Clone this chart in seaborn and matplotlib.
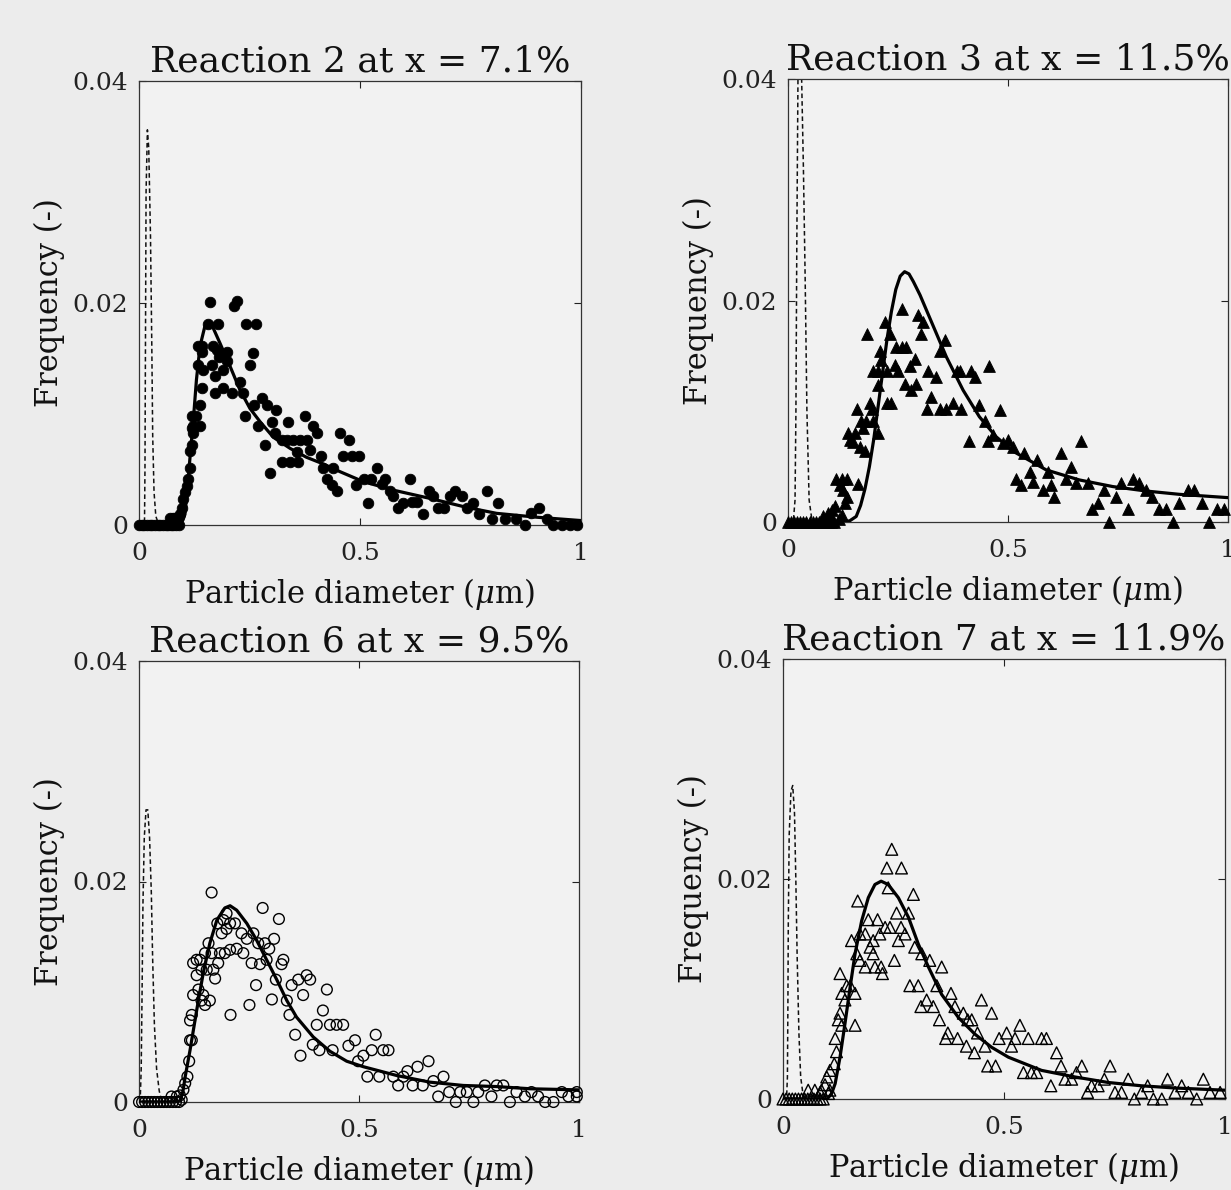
import numpy as np
import pandas as pd
import matplotlib
matplotlib.use("Agg")
import matplotlib.pyplot as plt
import seaborn as sns

# All frequencies below are in units of 1e-3 (converted when plotted)

# ---- Reaction 2 at x = 7.1 % (filled circles) ----
r2_points = [
    (0.000, 0), (0.006, 0), (0.012, 0), (0.018, 0), (0.024, 0), (0.030, 0), (0.036, 0), (0.042, 0),
    (0.048, 0), (0.054, 0), (0.060, 0), (0.066, 0), (0.072, 0), (0.078, 0), (0.084, 0), (0.090, 0),
    (0.070, 0.6), (0.076, 0.6), (0.082, 0.6), (0.088, 0.6),
    (0.093, 1.0), (0.097, 1.5), (0.100, 2.3), (0.104, 3.0), (0.108, 3.5), (0.111, 4.1), (0.115, 5.1),
    (0.115, 6.7), (0.119, 7.2), (0.123, 8.3), (0.119, 8.7), (0.122, 8.9), (0.138, 8.9), (0.130, 9.8),
    (0.119, 9.8), (0.138, 10.8), (0.142, 12.3), (0.134, 14.4), (0.145, 14.0), (0.142, 15.6), (0.134, 16.1),
    (0.142, 16.1), (0.155, 18.1), (0.161, 20.1), (0.179, 18.1), (0.168, 16.1), (0.177, 15.8), (0.198, 15.6),
    (0.182, 15.1), (0.165, 14.4), (0.172, 13.4), (0.191, 14.0), (0.171, 11.9), (0.189, 12.3), (0.210, 11.9),
    (0.228, 12.9), (0.236, 11.9), (0.242, 18.1), (0.265, 18.1), (0.221, 20.2), (0.215, 19.7), (0.257, 15.5),
    (0.250, 14.4), (0.198, 14.8),
    (0.240, 9.8), (0.260, 10.8), (0.278, 11.4), (0.289, 10.8), (0.311, 10.4), (0.270, 8.9), (0.302, 9.3),
    (0.338, 9.3), (0.375, 9.8), (0.393, 8.9), (0.402, 8.3), (0.308, 8.3), (0.323, 7.7), (0.334, 7.7),
    (0.349, 7.7), (0.364, 7.7), (0.379, 7.7), (0.285, 7.2), (0.323, 5.7), (0.342, 5.7), (0.360, 5.7),
    (0.357, 6.6), (0.387, 6.8), (0.411, 6.2), (0.296, 4.7), (0.417, 5.1), (0.440, 5.1), (0.425, 4.1),
    (0.436, 3.6), (0.449, 3.1),
    (0.455, 8.3), (0.474, 7.7), (0.462, 6.2), (0.481, 6.2), (0.498, 6.2), (0.492, 3.6), (0.509, 4.1),
    (0.526, 4.1), (0.538, 5.1), (0.549, 3.7), (0.557, 4.1), (0.568, 3.1), (0.575, 2.6), (0.587, 1.5),
    (0.598, 2.0), (0.612, 4.1), (0.617, 2.1), (0.628, 2.1), (0.643, 1.0), (0.655, 3.1), (0.666, 2.6),
    (0.677, 1.5), (0.689, 1.5), (0.704, 2.6), (0.715, 3.1), (0.730, 2.6), (0.741, 1.5), (0.755, 2.0),
    (0.770, 1.0), (0.787, 3.1), (0.798, 0.5), (0.813, 2.0), (0.828, 0.5), (0.854, 0.5), (0.873, 0),
    (0.888, 1.1), (0.905, 1.5), (0.922, 0.5), (0.937, 0), (0.956, 0), (0.975, 0), (0.990, 0), (0.519, 2.0),
]
r2_fit = [
    (0.0, 0), (0.093, 0), (0.100, 0.5), (0.104, 1.0), (0.110, 3.5), (0.115, 5.9), (0.123, 9.5),
    (0.130, 13.1), (0.138, 16.1), (0.149, 17.9), (0.157, 18.3), (0.165, 18.0), (0.183, 16.4),
    (0.206, 14.3), (0.228, 12.2), (0.251, 10.5), (0.274, 9.3), (0.304, 7.9), (0.342, 6.9), (0.379, 6.1),
    (0.417, 5.5), (0.455, 4.8), (0.508, 3.9), (0.580, 3.1), (0.658, 2.4), (0.740, 1.6), (0.809, 1.05),
    (0.900, 0.7), (1.0, 0.4),
]
r2_seed = [
    (0.0, 0), (0.010, 0), (0.0125, 0.5), (0.0135, 5), (0.0145, 15), (0.016, 30), (0.019, 35.6),
    (0.022, 34), (0.026, 26), (0.029, 16), (0.031, 8), (0.034, 3), (0.038, 0.8), (0.045, 0),
]

# ---- Reaction 3 at x = 11.5 % (filled triangles) ----
r3_points = [
    (0.000, 0), (0.007, 0), (0.014, 0), (0.021, 0), (0.028, 0), (0.035, 0), (0.042, 0), (0.049, 0),
    (0.056, 0), (0.063, 0), (0.070, 0), (0.077, 0), (0.084, 0), (0.091, 0), (0.098, 0), (0.105, 0),
    (0.110, 3.9), (0.122, 3.9), (0.133, 3.9), (0.118, 3.3), (0.125, 2.9), (0.133, 2.3), (0.129, 1.7),
    (0.159, 3.4), (0.107, 1.4), (0.099, 1.1), (0.091, 0.8), (0.080, 0.5), (0.095, 0.5), (0.115, 0.3),
    (0.122, 0.6),
    (0.137, 8.0), (0.152, 8.0), (0.141, 7.4), (0.148, 7.2), (0.163, 6.8), (0.175, 6.4), (0.205, 8.0),
    (0.167, 9.1), (0.178, 9.1), (0.194, 9.1), (0.171, 8.5), (0.156, 10.2), (0.186, 10.7), (0.190, 10.2),
    (0.224, 10.7), (0.235, 10.7),
    (0.258, 19.2), (0.220, 18.1), (0.180, 17.0), (0.231, 17.0), (0.296, 18.7), (0.307, 18.1), (0.303, 17.0),
    (0.356, 16.4), (0.246, 15.8), (0.258, 15.8), (0.269, 15.8), (0.209, 15.4), (0.212, 14.6), (0.194, 13.6),
    (0.205, 13.6), (0.224, 13.6), (0.243, 14.2), (0.250, 13.6), (0.277, 14.1), (0.288, 14.7), (0.318, 13.6),
    (0.337, 13.1), (0.345, 15.4), (0.383, 13.6), (0.390, 13.6), (0.416, 13.6), (0.424, 13.1), (0.457, 14.1),
    (0.205, 12.4), (0.265, 12.5), (0.292, 12.5), (0.280, 11.9), (0.326, 11.3), (0.315, 10.2), (0.345, 10.2),
    (0.360, 10.2), (0.375, 10.7), (0.394, 10.2),
    (0.411, 7.3), (0.435, 10.6), (0.447, 9.1), (0.454, 7.3), (0.466, 7.9), (0.481, 10.1), (0.488, 7.1),
    (0.500, 7.4), (0.511, 6.8), (0.537, 6.2), (0.567, 5.6), (0.590, 4.5), (0.518, 3.9), (0.530, 3.3),
    (0.549, 4.5), (0.556, 3.6), (0.579, 2.9), (0.598, 3.3), (0.605, 2.3), (0.632, 3.9), (0.643, 5.0),
    (0.655, 3.5), (0.681, 3.5), (0.621, 6.2), (0.666, 7.3),
    (0.692, 1.2), (0.704, 1.7), (0.719, 2.9), (0.730, 0), (0.745, 2.3), (0.757, 3.5), (0.772, 1.2),
    (0.783, 3.9), (0.798, 3.5), (0.813, 2.9), (0.828, 2.3), (0.843, 1.2), (0.859, 1.2), (0.874, 0),
    (0.889, 1.7), (0.908, 2.9), (0.923, 2.9), (0.942, 1.7), (0.957, 0), (0.976, 1.2), (0.991, 1.2),
]
r3_fit = [
    (0.0, 0), (0.120, 0), (0.140, 0.1), (0.155, 0.5), (0.165, 1.5), (0.175, 3.0), (0.185, 5.0),
    (0.195, 7.5), (0.205, 10.5), (0.215, 13.5), (0.225, 16.5), (0.235, 19.0), (0.245, 21.0),
    (0.255, 22.2), (0.265, 22.6), (0.275, 22.4), (0.285, 21.7), (0.300, 20.5), (0.330, 17.7),
    (0.360, 14.9), (0.398, 11.9), (0.435, 9.5), (0.473, 7.7), (0.511, 6.4), (0.587, 4.7), (0.662, 3.8),
    (0.738, 3.2), (0.813, 2.8), (0.889, 2.5), (1.0, 2.2),
]
r3_seed = [
    (0.0, 0), (0.012, 0), (0.016, 2), (0.018, 10), (0.020, 25), (0.023, 42), (0.027, 46), (0.031, 40),
    (0.035, 32), (0.039, 22), (0.043, 10), (0.048, 2), (0.055, 0),
]

# ---- Reaction 6 at x = 9.5 % (open circles) ----
r6_points = [
    (0.000, 0), (0.007, 0), (0.014, 0), (0.021, 0), (0.028, 0), (0.035, 0), (0.042, 0), (0.049, 0),
    (0.056, 0), (0.063, 0), (0.070, 0), (0.077, 0), (0.084, 0), (0.091, 0),
    (0.116, 5.6), (0.120, 5.6), (0.114, 3.7), (0.110, 2.3), (0.105, 1.7), (0.101, 1.1), (0.093, 0.6),
    (0.086, 0.5), (0.074, 0.5), (0.097, 0.2), (0.120, 7.9), (0.116, 7.4),
    (0.165, 19.0), (0.281, 17.6), (0.318, 16.6),
    (0.199, 17.1), (0.178, 16.2), (0.192, 16.5), (0.207, 16.2), (0.218, 16.2), (0.199, 15.7), (0.188, 15.3),
    (0.233, 15.3), (0.245, 14.8), (0.260, 15.3), (0.271, 14.4), (0.286, 14.4), (0.296, 13.9), (0.307, 14.8),
    (0.158, 14.4), (0.150, 13.5), (0.165, 13.5), (0.184, 13.5), (0.195, 13.5), (0.207, 13.8), (0.222, 13.9),
    (0.237, 13.5), (0.131, 12.9), (0.123, 12.6), (0.139, 12.9), (0.142, 12.0), (0.154, 12.0), (0.169, 12.0),
    (0.131, 11.5), (0.180, 12.6), (0.173, 11.2), (0.256, 12.6), (0.275, 12.5), (0.290, 12.9), (0.328, 12.9),
    (0.324, 12.5),
    (0.123, 9.7), (0.135, 10.2), (0.142, 9.2), (0.150, 8.8), (0.161, 9.2), (0.146, 9.7),
    (0.266, 10.6), (0.251, 8.8), (0.208, 7.9),
    (0.302, 9.3), (0.311, 11.1), (0.336, 9.2), (0.342, 7.9), (0.355, 6.1),
    (0.347, 10.6), (0.362, 11.1), (0.381, 11.5), (0.389, 11.1), (0.373, 9.7), (0.427, 10.2), (0.418, 8.3),
    (0.404, 7.0), (0.434, 7.0), (0.449, 7.0), (0.464, 7.0),
    (0.367, 4.2), (0.395, 5.2), (0.410, 4.7), (0.440, 4.7), (0.476, 5.1), (0.491, 5.6), (0.510, 4.2),
    (0.529, 4.7), (0.538, 6.1), (0.555, 4.7), (0.567, 4.7), (0.498, 3.7), (0.519, 2.3), (0.546, 2.3),
    (0.578, 2.3), (0.589, 1.5), (0.601, 2.3), (0.610, 2.8), (0.622, 1.5), (0.633, 3.2), (0.645, 1.5),
    (0.658, 3.7), (0.669, 1.9), (0.692, 2.3), (0.680, 0.5), (0.705, 0.9), (0.720, 0), (0.730, 0.9),
    (0.745, 0.9), (0.760, 0), (0.771, 0.9), (0.786, 1.5), (0.801, 0.5), (0.813, 1.5), (0.828, 1.5),
    (0.843, 0), (0.858, 0.9), (0.877, 0.5), (0.892, 0.9), (0.907, 0.5), (0.923, 0), (0.942, 0),
    (0.961, 0.9), (0.976, 0.5), (0.995, 0.9), (0.995, 0.5),
]
r6_fit = [
    (0.0, 0), (0.093, 0), (0.100, 1.0), (0.105, 2.3), (0.116, 4.7), (0.131, 8.3), (0.146, 11.7),
    (0.161, 14.4), (0.177, 16.5), (0.195, 17.6), (0.207, 17.8), (0.222, 17.4), (0.245, 16.2),
    (0.267, 14.7), (0.290, 12.9), (0.313, 11.1), (0.336, 9.2), (0.358, 7.7), (0.396, 5.9), (0.434, 4.6),
    (0.472, 3.7), (0.510, 3.2), (0.586, 2.4), (0.661, 1.8), (0.737, 1.5), (0.813, 1.4), (0.889, 1.2),
    (1.0, 1.1),
]
r6_seed = [
    (0.0, 0), (0.003, 0.5), (0.005, 3), (0.007, 10), (0.009, 18), (0.012, 24), (0.016, 26.5),
    (0.020, 26.5), (0.024, 24), (0.028, 19), (0.031, 13), (0.035, 7), (0.040, 3), (0.046, 1), (0.052, 0),
]

# ---- Reaction 7 at x = 11.9 % (open triangles) ----
r7_points = [
    (0.000, 0), (0.007, 0), (0.014, 0), (0.021, 0), (0.028, 0), (0.035, 0), (0.042, 0), (0.049, 0),
    (0.056, 0), (0.063, 0), (0.070, 0), (0.077, 0), (0.084, 0), (0.091, 0),
    (0.057, 0.8), (0.072, 0.8), (0.084, 0.6), (0.095, 1.3), (0.103, 0.5),
    (0.246, 22.7), (0.235, 21.0), (0.268, 21.0), (0.238, 19.2), (0.169, 18.0), (0.295, 18.6),
    (0.257, 16.9), (0.284, 16.9),
    (0.193, 16.3), (0.214, 16.3), (0.231, 15.6), (0.242, 15.6), (0.267, 15.6), (0.276, 15.0),
    (0.174, 15.0), (0.186, 15.0), (0.155, 14.4), (0.204, 14.4), (0.219, 15.0), (0.261, 14.4), (0.197, 13.8),
    (0.204, 13.2), (0.167, 13.2), (0.174, 12.6), (0.186, 12.0), (0.208, 12.0), (0.222, 12.0), (0.225, 11.4),
    (0.252, 12.6),
    (0.129, 11.4), (0.144, 10.3), (0.152, 10.3), (0.163, 9.6), (0.133, 9.6), (0.140, 9.0), (0.129, 7.8),
    (0.125, 7.2), (0.133, 6.7), (0.118, 5.5), (0.121, 4.3), (0.116, 3.2), (0.106, 2.6), (0.099, 2.0),
    (0.087, 0.8), (0.106, 0.8), (0.163, 6.7),
    (0.298, 13.8), (0.314, 13.2), (0.332, 12.6), (0.359, 12.0), (0.287, 10.3), (0.306, 10.3), (0.348, 10.3),
    (0.325, 9.0), (0.312, 8.4), (0.340, 8.4), (0.380, 9.6), (0.389, 8.4), (0.408, 7.8), (0.418, 7.2),
    (0.427, 7.2), (0.354, 7.2), (0.373, 6.0), (0.368, 5.5), (0.395, 5.5), (0.415, 4.8), (0.433, 4.2),
    (0.440, 6.0), (0.449, 9.0), (0.472, 7.8), (0.457, 4.8), (0.463, 3.0), (0.481, 3.0), (0.489, 5.5),
    (0.506, 6.0), (0.517, 4.8), (0.525, 5.5), (0.536, 6.7), (0.555, 5.5), (0.585, 5.5), (0.596, 5.5),
    (0.619, 4.2), (0.629, 3.0), (0.544, 2.4), (0.562, 2.4), (0.574, 2.4), (0.606, 1.2), (0.638, 1.8),
    (0.653, 1.8), (0.664, 2.4), (0.676, 3.0), (0.689, 0.6), (0.698, 1.2), (0.713, 1.2), (0.727, 1.8),
    (0.740, 3.0), (0.751, 0.6), (0.766, 0.6), (0.781, 1.8), (0.795, 0), (0.811, 0.6), (0.825, 1.2),
    (0.838, 0), (0.857, 0), (0.870, 1.8), (0.887, 0.6), (0.902, 1.2), (0.917, 0.6), (0.936, 0),
    (0.951, 1.8), (0.966, 0.6), (0.989, 0.6),
]
r7_fit = [
    (0.0, 0), (0.100, 0), (0.110, 0.5), (0.118, 1.4), (0.129, 3.8), (0.140, 6.8), (0.152, 10.2),
    (0.163, 13.2), (0.178, 16.2), (0.193, 18.3), (0.208, 19.5), (0.222, 19.8), (0.238, 19.5),
    (0.261, 18.3), (0.284, 16.5), (0.306, 14.1), (0.329, 12.0), (0.359, 9.5), (0.397, 7.4), (0.434, 5.9),
    (0.472, 4.7), (0.510, 3.8), (0.585, 2.6), (0.661, 2.0), (0.736, 1.5), (0.811, 1.2), (0.887, 1.0),
    (1.0, 0.8),
]
r7_seed = [
    (0.0, 0), (0.008, 0), (0.010, 2), (0.011, 8), (0.012, 16), (0.014, 24), (0.018, 28), (0.022, 28.5),
    (0.026, 26), (0.029, 20), (0.032, 13), (0.036, 6), (0.040, 2), (0.045, 0.5), (0.050, 0),
]

panels = [
    # title, points, fit, seed, marker, filled, axes rect in pixels (left, top, right, bottom)
    ("Reaction 2 at x = 7.1%", r2_points, r2_fit, r2_seed, "o", True, (139, 81, 581, 525)),
    ("Reaction 3 at x = 11.5%", r3_points, r3_fit, r3_seed, "^", True, (788, 79, 1228, 522)),
    ("Reaction 6 at x = 9.5%", r6_points, r6_fit, r6_seed, "o", False, (139, 661, 579, 1102)),
    ("Reaction 7 at x = 11.9%", r7_points, r7_fit, r7_seed, "^", False, (783, 659, 1225, 1099)),
]


def to_frame(pairs):
    df = pd.DataFrame(pairs, columns=["diameter", "freq"])
    df["freq"] = df["freq"] / 1000.0
    return df


sns.set_theme(style="ticks")
plt.rcParams["font.family"] = ["DejaVu Serif"]
plt.rcParams["mathtext.fontset"] = "dejavuserif"
plt.rcParams["text.color"] = "#111111"
plt.rcParams["axes.labelcolor"] = "#111111"
plt.rcParams["xtick.color"] = "#222222"
plt.rcParams["ytick.color"] = "#222222"

W, H = 1231, 1190
bg = "#ececec"
fig = plt.figure(figsize=(W / 100, H / 100), dpi=100, facecolor=bg)

for title, pts, fit, seed, marker, filled, (l, t, r, b) in panels:
    ax = fig.add_axes([l / W, (H - b) / H, (r - l) / W, (b - t) / H])
    ax.set_facecolor("#f2f2f2")

    pts_df = to_frame(pts)
    fit_df = to_frame(fit)
    seed_df = to_frame(seed)

    sns.lineplot(data=seed_df, x="diameter", y="freq", ax=ax, color="#111111",
                 linestyle=(0, (3, 2)), linewidth=1.1, sort=False, estimator=None)
    if filled:
        sns.scatterplot(data=pts_df, x="diameter", y="freq", ax=ax, marker=marker,
                        s=58 if marker == "o" else 72, color="black", edgecolor="black",
                        linewidth=0.6, clip_on=False, zorder=3)
    else:
        sns.scatterplot(data=pts_df, x="diameter", y="freq", ax=ax, marker=marker,
                        s=60 if marker == "o" else 72, facecolor="none", edgecolor="black",
                        linewidth=1.0, clip_on=False, zorder=3)
    sns.lineplot(data=fit_df, x="diameter", y="freq", ax=ax, color="black",
                 linewidth=2.3, sort=False, estimator=None, zorder=4)

    ax.set_xlim(0, 1)
    ax.set_ylim(0, 0.04)
    ax.set_xticks([0, 0.5, 1])
    ax.set_xticklabels(["0", "0.5", "1"])
    ax.set_yticks([0, 0.02, 0.04])
    ax.set_yticklabels(["0", "0.02", "0.04"])
    ax.tick_params(direction="in", top=True, right=True, length=5, width=0.8,
                   labelsize=18)
    ax.tick_params(axis="x", pad=12)
    ax.tick_params(axis="y", pad=8)
    for sp in ax.spines.values():
        sp.set_linewidth(0.9)
        sp.set_color("#333333")

    ax.set_title(title, fontsize=26, pad=7)
    ax.set_xlabel(r"Particle diameter ($\mu$m)", fontsize=22, labelpad=8)
    ax.set_ylabel("Frequency (-)", fontsize=22, labelpad=5)

fig.savefig("out.png", dpi=100, facecolor=bg)
